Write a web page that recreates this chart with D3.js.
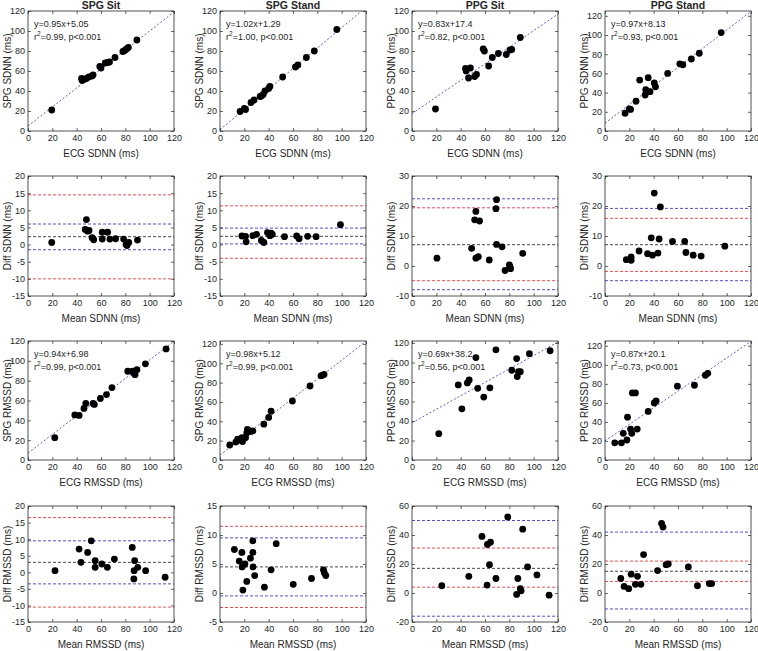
<!DOCTYPE html>
<html><head><meta charset="utf-8">
<script src="https://cdn.jsdelivr.net/npm/d3@7"></script>
<style>body{margin:0;background:#fff}svg text{font-family:"Liberation Sans",Arial,sans-serif;fill:#262626}</style>
</head><body><svg id="c" width="758" height="651"></svg>
<script>
// ---------- DATA ----------
const colTitles = ["SPG Sit", "SPG Stand", "PPG Sit", "PPG Stand"];
const devices = ["SPG", "SPG", "PPG", "PPG"];
const xTicks = [0, 20, 40, 60, 80, 100, 120];

// Row 1: SDNN scatter (ECG, device)
const sdnnScatterSpgSit = [[19.5,21],[44,52.5],[44.5,50.5],[46,51.5],[48,52.5],[50,54],[52.5,55],[53.5,56],[59,64.5],[60,63],[63.5,68],[65.5,68.5],[67,69],[71.5,73.5],[78,79.5],[79.5,80.5],[81,82],[82.5,83.5],[89.5,91]];
const sdnnScatterSpgStand = [[16.5,19.5],[20,22.5],[21,21.5],[25.5,28.5],[28,31],[33,34.5],[34,35],[35.5,36.5],[37,40],[40,42.5],[41,44.5],[51.5,54],[62,64],[64,66],[71,73.5],[77.5,80],[96,101.5]];
const sdnnScatterPpgSit = [[19.3,22],[44,62.5],[44.5,60],[46.5,53],[48,63],[51.5,54.5],[53,56.5],[58.5,82],[59.5,80],[63,65],[66,73.5],[71,77.5],[77.5,76.5],[80.5,81],[82,81.5],[89,93.5]];
const sdnnScatterPpgStand = [[16.5,18.5],[20,23],[21,22.5],[25.5,31],[28.5,53],[33,37.5],[33.5,43],[35.5,55.5],[37,41],[40.5,50],[41.5,46],[51.5,60],[61.5,70],[64,69],[71,75],[77.5,81],[95.5,102.5]];
const sdnnSlopes = [0.95, 1.02, 0.83, 0.97];
const sdnnIntercepts = [5.05, 1.29, 17.4, 8.13];
const sdnnFitText = ["y=0.95x+5.05", "y=1.02x+1.29", "y=0.83x+17.4", "y=0.97x+8.13"];
const sdnnR2Text = ["=0.99, p<0.001", "=1.00, p<0.001", "=0.82, p<0.001", "=0.93, p<0.001"];
const sdnnScatterYMax = [120, 120, 120, 125];

// Row 2: SDNN Bland-Altman (mean, diff)
const sdnnBaSpgSit = [[19.5,0.6],[47,4.4],[48,7.3],[49,3.9],[50.2,4.1],[52.7,2],[54,1.4],[61,3.6],[61,1.6],[65.4,3.6],[67.3,1.6],[72,1.7],[78.6,1.6],[80.6,0],[81.4,-0.3],[82.8,0.6],[81.5,0.4],[90,1.3]];
const sdnnBaSpgStand = [[18,2.5],[21,2.4],[21.5,0.8],[27,2.6],[30,3],[34,1.2],[36,0.6],[39,3.5],[41,2.6],[42,3.3],[43,3],[53,2.3],[63,2.5],[65,1.7],[72,2.4],[79,2.3],[99,5.8]];
const sdnnBaPpgSit = [[20.5,2.6],[49,5.9],[51.5,15.4],[52.5,18.2],[52.5,2.6],[54.5,3.1],[55.5,15],[63.5,2],[69,19.1],[69.5,22.1],[69.5,7.2],[74,6.4],[76.5,-1.5],[80,0.4],[80.5,-0.2],[81,-0.9],[91,4.2]];
const sdnnBaPpgStand = [[17.5,2.1],[21.5,3],[21.5,1.9],[28,5],[35,4.1],[38,9.4],[39,3.6],[40.5,24.3],[43.5,4.3],[44.5,9],[45.5,19.7],[55.5,8.2],[65.5,8.2],[66.5,4.5],[72.5,3.6],[79,3.3],[98.5,6.6]];
const sdnnBaMean = [2.3, 2.4, 7.1, 7.1];
const sdnnBaBlue = [[6, -1.5], [4.8, 0.2], [22.4, -7.9], [19.2, -4.9]];
const sdnnBaRed = [[14.5, -10], [11.3, -4], [19.4, -4.9], [15.9, -1.8]];
const sdnnBaYDomain = [[-15, 20], [-15, 20], [-10, 30], [-10, 30]];
const sdnnBaYTicks = [[-15,-10,-5,0,5,10,15,20], [-15,-10,-5,0,5,10,15,20], [-10,0,10,20,30], [-10,0,10,20,30]];

// Row 3: RMSSD scatter
const rmssdScatterSpgSit = [[22,22.5],[38.5,45.5],[42,45],[46,52],[47.5,57],[53.5,57],[54.5,56],[59.5,62],[64.5,66],[69,73],[82,89.5],[86,89.5],[87,87.5],[88,86],[89.5,91],[96.5,97],[113.5,112]];
const rmssdScatterSpgStand = [[8,15.5],[13,18.5],[14.5,21.5],[16,20.5],[18,23],[18.5,19],[21,23],[22,28],[22.5,31.5],[23.5,30.5],[25,29.5],[27,30],[36,37],[40,44],[42,50.5],[59.5,61],[74,76.5],[83,87],[84,87.5],[85.5,88.5]];
const rmssdScatterPpgSit = [[22,27],[38,77],[41,52.5],[45.5,79],[47,82],[52.5,105],[54,73.5],[59,64.5],[64,74],[69,113],[82,92],[86,104],[86.5,85.5],[87.5,90.5],[89,90.5],[96.5,109],[113.5,112]];
const rmssdScatterPpgStand = [[8,18],[13.5,18],[15,28],[18,21],[18.5,45],[21,32.5],[22,28],[22.5,70.5],[25,70.5],[26.5,32.5],[35.5,51],[40.5,60],[42,62],[59.5,77.5],[73.5,78.5],[82.5,89],[84.5,91]];
const rmssdSlopes = [0.94, 0.98, 0.69, 0.87];
const rmssdIntercepts = [6.98, 5.12, 38.2, 20.1];
const rmssdFitText = ["y=0.94x+6.98", "y=0.98x+5.12", "y=0.69x+38.2", "y=0.87x+20.1"];
const rmssdR2Text = ["=0.99, p<0.001", "=0.99, p<0.001", "=0.56, p<0.001", "=0.73, p<0.001"];
const rmssdScatterYMax = [120, 123, 122, 125];

// Row 4: RMSSD Bland-Altman
const rmssdBaSpgSit = [[22.2,0.5],[42,7],[43.5,3],[49,6],[52,9.5],[55.2,3.5],[55.2,1.5],[60.7,2.5],[65.2,1.5],[71,4],[85.7,7.5],[87.7,3.5],[87.2,0.5],[87,-2],[90.2,1.5],[96.7,0.5],[112.7,-1.5]];
const rmssdBaSpgStand = [[11.8,7.5],[15.8,5.5],[18,7],[18.2,4.5],[20.5,5],[18.8,0.5],[22,2],[25,6],[27,9],[27,7],[27.2,4.5],[28.5,3],[36.5,1],[42,4],[46.2,8.5],[60.2,1.5],[75.2,2.5],[85,4],[85.7,3.5],[87,3]];
const rmssdBaPpgSit = [[24.5,5],[57.5,39],[46.7,11.5],[62,33.5],[64.5,35],[78.7,52.5],[63.7,19.5],[61.7,5.5],[69,10],[91,44],[87,10],[95,18],[86,-1],[89,3],[89.7,1.5],[102.7,12.5],[112.7,-1.5]];
const rmssdBaPpgStand = [[13,10],[15.7,4.5],[21.5,13],[19.5,3],[31.7,26.5],[26.7,11.5],[25,6],[46.5,48],[47.7,45.5],[29.5,6],[43.2,15.5],[50.2,19.5],[52,20],[68.5,18],[76,5],[85.7,6.5],[87.7,6.5]];
const rmssdBaMean = [3, 4.5, 17, 15];
const rmssdBaBlue = [[9.5, -3.5], [9.5, -0.5], [50, -16], [42, -11]];
const rmssdBaRed = [[16.5, -10.5], [11.5, -2.5], [31, 4], [22, 8]];
const rmssdBaYDomain = [[-15, 20], [-5, 15], [-20, 60], [-20, 60]];
const rmssdBaYTicks = [[-15,-10,-5,0,5,10,15,20], [-5,0,5,10,15], [-20,0,20,40,60], [-20,0,20,40,60]];

// ---------- LAYOUT ----------
const colLefts = [28, 220, 412, 605];
const rowTops = [11, 176, 341, 506];
const rowHeights = [120, 120, 119, 116];
const plotW = 146;
const axisColor = "#262626";

const svg = d3.select("#c");

function drawAxes(g, x, y, L, T, H, yTicks, xLabel, yLabel) {
  g.append("rect").attr("x", L).attr("y", T).attr("width", plotW).attr("height", H)
    .attr("fill", "none").attr("stroke", axisColor).attr("stroke-width", 0.8);
  const fmt = d => String(d);
  const bottom = g.append("g").attr("transform", `translate(0,${T + H})`)
    .call(d3.axisBottom(x).tickValues(xTicks).tickSizeInner(-3).tickSizeOuter(0).tickPadding(4).tickFormat(fmt));
  const top = g.append("g").attr("transform", `translate(0,${T})`)
    .call(d3.axisTop(x).tickValues(xTicks).tickSizeInner(-3).tickSizeOuter(0).tickFormat(""));
  const left = g.append("g").attr("transform", `translate(${L},0)`)
    .call(d3.axisLeft(y).tickValues(yTicks).tickSizeInner(-3).tickSizeOuter(0).tickPadding(3).tickFormat(fmt));
  const right = g.append("g").attr("transform", `translate(${L + plotW},0)`)
    .call(d3.axisRight(y).tickValues(yTicks).tickSizeInner(-3).tickSizeOuter(0).tickFormat(""));
  [bottom, top, left, right].forEach(a => {
    a.select(".domain").remove();
    a.selectAll("line").attr("stroke", axisColor).attr("stroke-width", 0.7);
    a.selectAll("text").attr("font-size", 9).attr("fill", axisColor).attr("font-family", "Liberation Sans, Arial, sans-serif");
  });
  g.append("text").attr("x", L + plotW / 2).attr("y", T + H + 26)
    .attr("text-anchor", "middle").attr("font-size", 10).text(xLabel);
  g.append("text").attr("transform", `translate(${L - 17},${T + H / 2}) rotate(-90)`)
    .attr("text-anchor", "middle").attr("font-size", 10).text(yLabel);
}

function drawDots(g, data, x, y) {
  g.selectAll("circle.pt").data(data).join("circle").attr("class", "pt")
    .attr("cx", d => x(d[0])).attr("cy", d => y(d[1])).attr("r", 3.4).attr("fill", "#000");
}

function scatterPanel(r, c, data, slope, intercept, fitText, r2Text, yMax, xLabel, yLabel) {
  const L = colLefts[c], T = rowTops[r], H = rowHeights[r];
  const g = svg.append("g");
  const x = d3.scaleLinear().domain([0, 120]).range([L, L + plotW]);
  const y = d3.scaleLinear().domain([0, yMax]).range([T + H, T]);
  const clipId = `clip${r}${c}`;
  g.append("clipPath").attr("id", clipId).append("rect").attr("x", L).attr("y", T).attr("width", plotW).attr("height", H);
  const line = d3.line().x(d => x(d)).y(d => y(slope * d + intercept));
  g.append("path").datum([0, 120]).attr("d", line).attr("clip-path", `url(#${clipId})`)
    .attr("fill", "none").attr("stroke", "#4b4bd2").attr("stroke-width", 0.9).attr("stroke-dasharray", "2,2");
  drawDots(g, data, x, y);
  drawAxes(g, x, y, L, T, H, xTicks, xLabel, yLabel);
  g.append("text").attr("x", L + 6).attr("y", T + 16).attr("font-size", 9).text(fitText);
  const t2 = g.append("text").attr("x", L + 6).attr("y", T + 29).attr("font-size", 9);
  t2.append("tspan").text("r");
  t2.append("tspan").attr("dy", -4).attr("font-size", 6.5).text("2");
  t2.append("tspan").attr("dy", 4).text(r2Text);
}

function baPanel(r, c, data, mean, blue, red, yDomain, yTicks, xLabel, yLabel) {
  const L = colLefts[c], T = rowTops[r], H = rowHeights[r];
  const g = svg.append("g");
  const x = d3.scaleLinear().domain([0, 120]).range([L, L + plotW]);
  const y = d3.scaleLinear().domain(yDomain).range([T + H, T]);
  const hl = (v, col) => g.append("line").attr("x1", x(0)).attr("x2", x(120)).attr("y1", y(v)).attr("y2", y(v))
    .attr("stroke", col).attr("stroke-width", 0.9).attr("stroke-dasharray", "3,2");
  red.forEach(v => hl(v, "#e8393c"));
  blue.forEach(v => hl(v, "#3b3bd0"));
  hl(mean, "#333");
  drawDots(g, data, x, y);
  drawAxes(g, x, y, L, T, H, yTicks, xLabel, yLabel);
}

const sdnnScatters = [sdnnScatterSpgSit, sdnnScatterSpgStand, sdnnScatterPpgSit, sdnnScatterPpgStand];
const sdnnBas = [sdnnBaSpgSit, sdnnBaSpgStand, sdnnBaPpgSit, sdnnBaPpgStand];
const rmssdScatters = [rmssdScatterSpgSit, rmssdScatterSpgStand, rmssdScatterPpgSit, rmssdScatterPpgStand];
const rmssdBas = [rmssdBaSpgSit, rmssdBaSpgStand, rmssdBaPpgSit, rmssdBaPpgStand];

for (let c = 0; c < 4; c++) {
  scatterPanel(0, c, sdnnScatters[c], sdnnSlopes[c], sdnnIntercepts[c], sdnnFitText[c], sdnnR2Text[c], sdnnScatterYMax[c],
    "ECG SDNN (ms)", `${devices[c]} SDNN (ms)`);
  baPanel(1, c, sdnnBas[c], sdnnBaMean[c], sdnnBaBlue[c], sdnnBaRed[c], sdnnBaYDomain[c], sdnnBaYTicks[c],
    "Mean SDNN (ms)", "Diff SDNN (ms)");
  scatterPanel(2, c, rmssdScatters[c], rmssdSlopes[c], rmssdIntercepts[c], rmssdFitText[c], rmssdR2Text[c], rmssdScatterYMax[c],
    "ECG RMSSD (ms)", `${devices[c]} RMSSD (ms)`);
  baPanel(3, c, rmssdBas[c], rmssdBaMean[c], rmssdBaBlue[c], rmssdBaRed[c], rmssdBaYDomain[c], rmssdBaYTicks[c],
    "Mean RMSSD (ms)", "Diff RMSSD (ms)");
  svg.append("text").attr("x", colLefts[c] + plotW / 2).attr("y", 9).attr("text-anchor", "middle")
    .attr("font-size", 10.5).attr("font-weight", "bold").attr("fill", "#000").text(colTitles[c]);
}
</script></body></html>
